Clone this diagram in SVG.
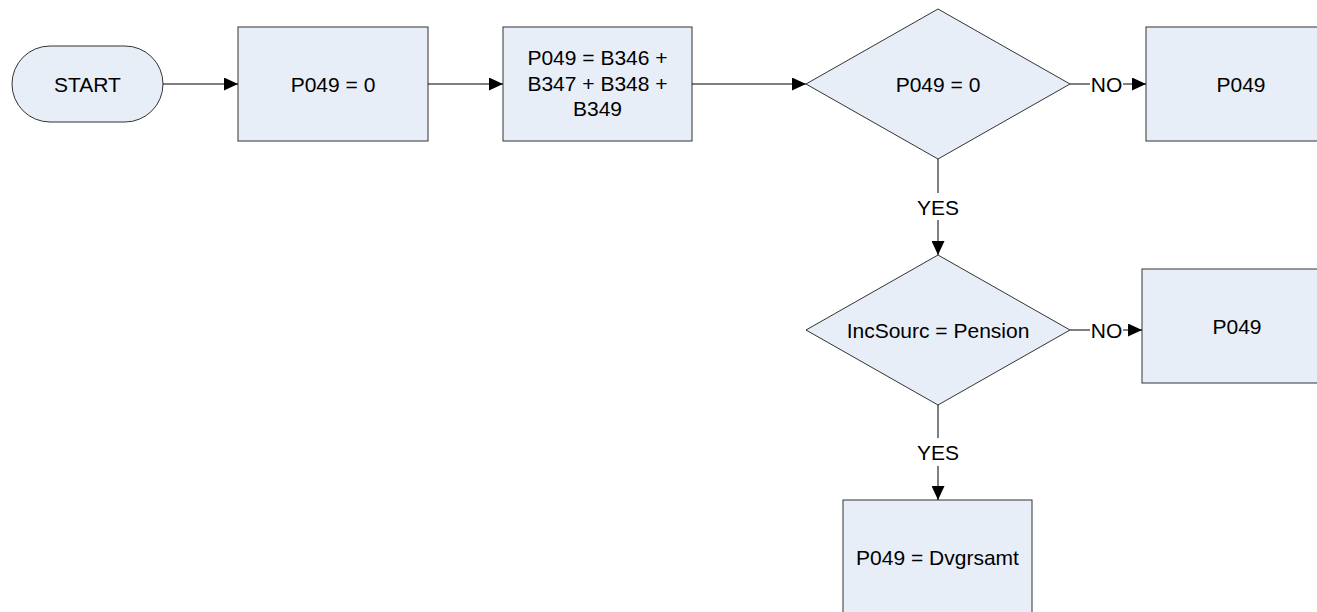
<svg xmlns="http://www.w3.org/2000/svg" width="1317" height="612" viewBox="0 0 1317 612">
<style>
.shape{fill:#E8EEF8;stroke:#333333;stroke-width:1}
.lbl{font-family:"Liberation Sans",Arial,sans-serif;font-size:21px;fill:#000;text-anchor:middle}
.conn{fill:none;stroke:#000;stroke-width:1}
</style>
<defs>
<marker id="arr" viewBox="0 0 14 13" refX="14" refY="6.5" markerWidth="14" markerHeight="13" markerUnits="userSpaceOnUse" orient="auto">
<path d="M0,0 L14,6.5 L0,13 Z" fill="#000"/>
</marker>
</defs>
<rect width="1317" height="612" fill="#fff"/>
<g id="start">
<rect class="shape" x="12" y="46" width="151" height="76" rx="38" ry="38"/>
<text class="lbl" x="87.5" y="91.5">START</text>
</g>
<g id="box1">
<rect class="shape" x="238" y="27" width="190" height="114"/>
<text class="lbl" x="333" y="91.5">P049 = 0</text>
</g>
<g id="box2">
<rect class="shape" x="503" y="27" width="189" height="114"/>
<text class="lbl" x="597.5" y="65">P049 = B346 +</text>
<text class="lbl" x="597.5" y="90.5">B347 + B348 +</text>
<text class="lbl" x="597.5" y="116">B349</text>
</g>
<g id="dec1">
<polygon class="shape" points="938,9 1070,84 938,159 806,84"/>
<text class="lbl" x="938" y="91.5">P049 = 0</text>
</g>
<g id="box3">
<rect class="shape" x="1146" y="27" width="190" height="114"/>
<text class="lbl" x="1241" y="91.5">P049</text>
</g>
<g id="dec2">
<polygon class="shape" points="938,255 1070,330 938,405 806,330"/>
<text class="lbl" x="938" y="337.5">IncSourc = Pension</text>
</g>
<g id="box4">
<rect class="shape" x="1142" y="269" width="190" height="114"/>
<text class="lbl" x="1237" y="333.5">P049</text>
</g>
<g id="box5">
<rect class="shape" x="843" y="500" width="189" height="114"/>
<text class="lbl" x="937.5" y="564.5">P049 = Dvgrsamt</text>
</g>
<g id="connectors">
<line class="conn" x1="163" y1="84" x2="238" y2="84" marker-end="url(#arr)"/>
<line class="conn" x1="428" y1="84" x2="503" y2="84" marker-end="url(#arr)"/>
<line class="conn" x1="692" y1="84" x2="806" y2="84" marker-end="url(#arr)"/>
<line class="conn" x1="1070" y1="84" x2="1090" y2="84"/>
<line class="conn" x1="1123" y1="84" x2="1146" y2="84" marker-end="url(#arr)"/>
<text class="lbl" x="1106.5" y="91.5">NO</text>
<line class="conn" x1="938" y1="159" x2="938" y2="193"/>
<line class="conn" x1="938" y1="220" x2="938" y2="255" marker-end="url(#arr)"/>
<text class="lbl" x="938" y="214.5">YES</text>
<line class="conn" x1="1070" y1="330" x2="1090" y2="330"/>
<line class="conn" x1="1123" y1="330" x2="1142" y2="330" marker-end="url(#arr)"/>
<text class="lbl" x="1106.5" y="337.5">NO</text>
<line class="conn" x1="938" y1="405" x2="938" y2="438"/>
<line class="conn" x1="938" y1="466" x2="938" y2="500" marker-end="url(#arr)"/>
<text class="lbl" x="938" y="459.5">YES</text>
</g>
</svg>
